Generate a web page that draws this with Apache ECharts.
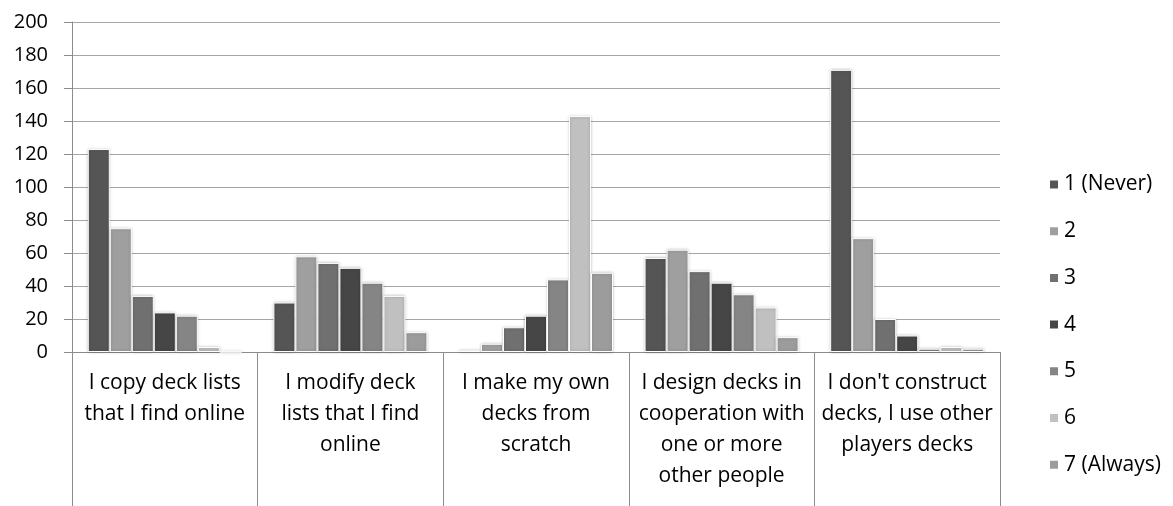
<!DOCTYPE html>
<html>
<head>
<meta charset="utf-8">
<title>Deck building</title>
<script src="https://cdn.jsdelivr.net/npm/echarts@6/dist/echarts.min.js"></script>
<style>
  html, body { margin: 0; padding: 0; background: #fff; }
  #chart { width: 1173px; height: 506px; }
</style>
</head>
<body>
<div id="chart"></div>
<script>
// categories (line breaks as in the original)
var categories = [
  'I copy deck lists\nthat I find online',
  'I modify deck\nlists that I find\nonline',
  'I make my own\ndecks from\nscratch',
  'I design decks in\ncooperation with\none or more\nother people',
  'I don\'t construct\ndecks, I use other\nplayers decks'
]

var seriesNames = ['1 (Never)', '2', '3', '4', '5', '6', '7 (Always)']
var seriesColors = ['#555555', '#9f9f9f', '#707070', '#464646', '#858585', '#c0c0c0', '#9c9c9c']

// one array per answer, values per category
var never1 = [123, 30, 1, 57, 171]
var two2 = [75, 58, 5, 62, 69]
var three3 = [34, 54, 15, 49, 20]
var four4 = [24, 51, 22, 42, 10]
var five5 = [22, 42, 44, 35, 2]
var six6 = [3, 34, 143, 27, 3]
var always7 = [0, 12, 48, 9, 2]

var yTicks = { min: 0, max: 200, interval: 20 }

var seriesData = [never1, two2, three3, four4, five5, six6, always7]
var font = 'Open Sans, Liberation Sans, sans-serif'

var chart = echarts.init(document.getElementById('chart'))

chart.setOption({
  animation: false,
  color: seriesColors,
  textStyle: { fontFamily: font },
  legend: {
    orient: 'vertical',
    left: 1043,
    top: 169,
    itemWidth: 10,
    itemHeight: 10,
    itemGap: 25.7,
    icon: 'rect',
    textStyle: { fontSize: 21, lineHeight: 20, color: '#000', fontFamily: font },
    data: seriesNames
  },
  grid: {
    left: 72,
    right: 173,
    top: 22,
    bottom: 154,
    containLabel: false
  },
  xAxis: {
    type: 'category',
    data: categories,
    axisLine: { lineStyle: { color: '#8c8c8c', width: 1 } },
    axisTick: {
      show: true,
      length: 154,
      lineStyle: { color: '#8c8c8c', width: 1 }
    },
    axisLabel: {
      interval: 0,
      color: '#000',
      fontSize: 21,
      lineHeight: 31,
      margin: 16,
      verticalAlign: 'top'
    }
  },
  yAxis: {
    type: 'value',
    min: yTicks.min,
    max: yTicks.max,
    interval: yTicks.interval,
    axisLine: { show: true, lineStyle: { color: '#8c8c8c', width: 1 } },
    axisTick: { show: true, length: 8, lineStyle: { color: '#8c8c8c' } },
    axisLabel: { color: '#000', fontSize: 20, margin: 24 },
    splitLine: { lineStyle: { color: '#a6a6a6', width: 1 } }
  },
  series: seriesNames.map(function (name, i) {
    return {
      name: name,
      type: 'bar',
      data: seriesData[i],
      barGap: '0%',
      barCategoryGap: '17%',
      itemStyle: {
        color: seriesColors[i],
        borderColor: '#ffffff',
        borderWidth: 1,
        shadowBlur: 3,
        shadowColor: 'rgba(0,0,0,0.25)'
      }
    }
  })
})
</script>
</body>
</html>
